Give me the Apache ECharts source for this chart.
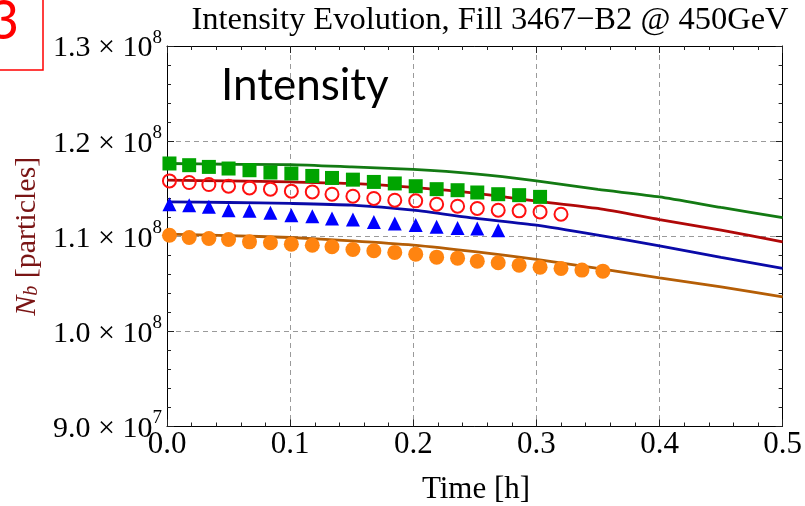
<!DOCTYPE html>
<html><head><meta charset="utf-8">
<script src="https://cdn.jsdelivr.net/npm/echarts@6/dist/echarts.min.js"></script>
<style>html,body{margin:0;padding:0;background:#fff}#c{width:805px;height:506px}</style>
</head><body><div id="c"></div>
<script>
// ---- data (time in hours, intensity in particles) ----
const lineTimes = [0, 0.05, 0.1, 0.15, 0.2, 0.25, 0.3, 0.35, 0.4, 0.45, 0.5];
const greenLine  = [1.1765e8, 1.1757e8, 1.1754e8, 1.1729e8, 1.1702e8, 1.1655e8, 1.1582e8, 1.1492e8, 1.1414e8, 1.1303e8, 1.1197e8];
const redLine    = [1.1589e8, 1.1582e8, 1.1571e8, 1.1555e8, 1.1513e8, 1.1453e8, 1.1370e8, 1.1292e8, 1.1176e8, 1.1064e8, 1.0941e8];
const blueLine   = [1.1361e8, 1.1355e8, 1.1345e8, 1.1327e8, 1.1274e8, 1.1190e8, 1.1117e8, 1.1012e8, 1.0899e8, 1.0777e8, 1.0662e8];
const orangeLine = [1.1022e8, 1.1006e8, 1.0987e8, 1.0952e8, 1.0907e8, 1.0838e8, 1.0756e8, 1.0662e8, 1.0563e8, 1.0469e8, 1.0363e8];

const markerTimes = [0.002, 0.018, 0.034, 0.050, 0.067, 0.084, 0.101, 0.118, 0.134, 0.151, 0.168,
                     0.185, 0.202, 0.219, 0.236, 0.252, 0.269, 0.286, 0.303, 0.320, 0.337, 0.354];
const greenSquares = [1.1765e8, 1.1747e8, 1.1729e8, 1.1712e8, 1.1694e8, 1.1670e8, 1.1660e8, 1.1634e8, 1.1613e8, 1.1595e8,
                      1.1571e8, 1.1555e8, 1.1526e8, 1.1495e8, 1.1484e8, 1.1460e8, 1.1442e8, 1.1432e8, 1.1414e8];
const redCircles   = [1.1582e8, 1.1565e8, 1.1544e8, 1.1526e8, 1.1508e8, 1.1495e8, 1.1474e8, 1.1466e8, 1.1442e8, 1.1421e8,
                      1.1397e8, 1.1379e8, 1.1372e8, 1.1337e8, 1.1316e8, 1.1292e8, 1.1274e8, 1.1267e8, 1.1256e8, 1.1232e8];
const blueTriangles = [1.1337e8, 1.1327e8, 1.1309e8, 1.1274e8, 1.1267e8, 1.1246e8, 1.1222e8, 1.1211e8, 1.1187e8, 1.1176e8,
                       1.1151e8, 1.1134e8, 1.1117e8, 1.1099e8, 1.1088e8, 1.1082e8, 1.1064e8];
const orangeCircles = [1.1010e8, 1.0987e8, 1.0977e8, 1.0966e8, 1.0941e8, 1.0931e8, 1.0917e8, 1.0906e8, 1.0889e8, 1.0861e8,
                       1.0847e8, 1.0830e8, 1.0812e8, 1.0780e8, 1.0770e8, 1.0738e8, 1.0721e8, 1.0696e8, 1.0675e8, 1.0662e8,
                       1.0644e8, 1.0633e8];

const xTicks = [0, 0.1, 0.2, 0.3, 0.4, 0.5];
const titleText = 'Intensity Evolution, Fill 3467\u2212B2 @ 450GeV';

// ---- helpers ----
const serif = '"Liberation Serif","Times New Roman",serif';
const sans = 'Lato, "Open Sans", sans-serif';
const zip = (xs, ys) => ys.map((y, i) => [xs[i], y]);
function yFmt(v) {
  const e = Math.floor(Math.log10(v) + 1e-9);
  const m = v / Math.pow(10, e);
  return '{m|' + m.toFixed(1) + ' \u00d7 10}{s|' + e + '}';
}
const tickStyle = { color: '#222', width: 1 };

const chart = echarts.init(document.getElementById('c'), null, { renderer: 'canvas' });
chart.setOption({
  animation: false,
  backgroundColor: '#fff',
  grid: { left: 167, right: 20, top: 46, bottom: 79.5, containLabel: false },
  xAxis: [{
    type: 'value', min: xTicks[0], max: xTicks[xTicks.length - 1], interval: 0.1,
    axisLine: { show: true, onZero: false, lineStyle: { color: '#000', width: 1 } },
    axisTick: { show: true, inside: true, length: 7, lineStyle: tickStyle },
    minorTick: { show: true, splitNumber: 5, length: 4, lineStyle: tickStyle },
    splitLine: { show: true, lineStyle: { color: '#9a9a9a', width: 1, type: [5, 4] } },
    axisLabel: { margin: 3, fontFamily: serif, fontSize: 31, color: '#000',
      formatter: v => v.toFixed(1) }
  }, {
    type: 'value', position: 'top', min: xTicks[0], max: xTicks[xTicks.length - 1], interval: 0.1,
    axisLine: { show: true, onZero: false, lineStyle: { color: '#000', width: 1 } },
    axisTick: { show: true, inside: true, length: 7, lineStyle: tickStyle },
    minorTick: { show: true, splitNumber: 5, length: 4, lineStyle: tickStyle },
    splitLine: { show: false }, axisLabel: { show: false }
  }],
  yAxis: [{
    type: 'value', min: 9e7, max: 1.3e8, interval: 1e7,
    axisLine: { show: true, onZero: false, lineStyle: { color: '#000', width: 1 } },
    axisTick: { show: true, inside: true, length: 7, lineStyle: tickStyle },
    minorTick: { show: true, splitNumber: 5, length: 4, lineStyle: tickStyle },
    splitLine: { show: true, lineStyle: { color: '#9a9a9a', width: 1, type: [5, 4] } },
    axisLabel: { margin: 5, formatter: yFmt,
      rich: {
        m: { fontFamily: serif, fontSize: 30, color: '#000', padding: [5, 0, 0, 0] },
        s: { fontFamily: serif, fontSize: 19, color: '#000', verticalAlign: 'top' }
      } },
    name: '{n|N}{b|b}{p| [particles]}', nameLocation: 'middle', nameRotate: 90, nameGap: 124,
    nameTextStyle: {
      rich: {
        n: { fontFamily: serif, fontStyle: 'italic', fontSize: 30, color: '#7a1414' },
        b: { fontFamily: serif, fontStyle: 'italic', fontSize: 20, color: '#7a1414', verticalAlign: 'bottom', padding: [8, 0, 0, 0] },
        p: { fontFamily: serif, fontSize: 30, color: '#7a1414' }
      }
    }
  }, {
    type: 'value', position: 'right', min: 9e7, max: 1.3e8, interval: 1e7,
    axisLine: { show: true, onZero: false, lineStyle: { color: '#000', width: 1 } },
    axisTick: { show: true, inside: true, length: 7, lineStyle: tickStyle },
    minorTick: { show: true, splitNumber: 5, length: 4, lineStyle: tickStyle },
    splitLine: { show: false }, axisLabel: { show: false }
  }],
  series: [
    { type: 'line', data: zip(lineTimes, greenLine), showSymbol: false, smooth: 0.2, z: 2,
      lineStyle: { color: '#137a13', width: 2.8 } },
    { type: 'line', data: zip(lineTimes, redLine), showSymbol: false, smooth: 0.2, z: 2,
      lineStyle: { color: '#b00808', width: 2.8 } },
    { type: 'line', data: zip(lineTimes, blueLine), showSymbol: false, smooth: 0.2, z: 2,
      lineStyle: { color: '#0a0aa8', width: 2.8 } },
    { type: 'line', data: zip(lineTimes, orangeLine), showSymbol: false, smooth: 0.2, z: 2,
      lineStyle: { color: '#b55e06', width: 2.8 } },
    { type: 'scatter', data: zip(markerTimes, greenSquares), symbol: 'rect', symbolSize: 14, z: 3,
      itemStyle: { color: '#00a400', opacity: 1 } },
    { type: 'scatter', data: zip(markerTimes, redCircles), symbol: 'circle', symbolSize: 13, z: 3,
      itemStyle: { color: 'rgba(255,255,255,0)', borderColor: '#ff1010', borderWidth: 2, opacity: 1 } },
    { type: 'scatter', data: zip(markerTimes, blueTriangles), symbol: 'triangle', symbolSize: 14, z: 3,
      itemStyle: { color: '#0000ff', opacity: 1 } },
    { type: 'scatter', data: zip(markerTimes, orangeCircles), symbol: 'circle', symbolSize: 15, z: 3,
      itemStyle: { color: '#ff8410', opacity: 1 } }
  ],
  graphic: [
    { type: 'rect', shape: { x: -10, y: -10, width: 53, height: 80 },
      style: { fill: 'none', stroke: '#ff0000', lineWidth: 1.5 } },
    { type: 'text', x: 19, y: 22, style: { text: '3', fontFamily: sans, fontSize: 54, fill: '#ff0000',
      align: 'right', verticalAlign: 'middle' } },
    { type: 'text', x: 490, y: 20, style: { text: titleText, fontFamily: serif, fontSize: 32.5, fill: '#000',
      align: 'center', verticalAlign: 'middle' } },
    { type: 'text', x: 221, y: 86, style: { text: 'Intensity', fontFamily: sans, fontSize: 44, fill: '#000',
      align: 'left', verticalAlign: 'middle' } },
    { type: 'text', x: 476, y: 490, style: { text: 'Time [h]', fontFamily: serif, fontSize: 31, fill: '#000',
      align: 'center', verticalAlign: 'middle' } }
  ]
});
</script></body></html>
